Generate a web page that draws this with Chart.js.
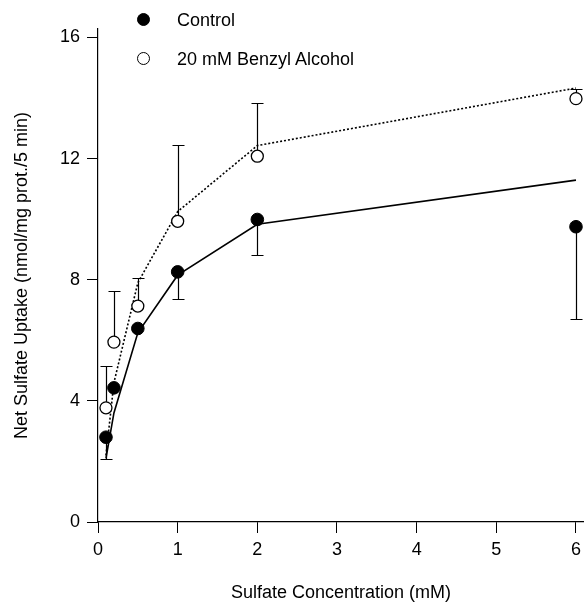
<!DOCTYPE html>
<html>
<head>
<meta charset="utf-8">
<script src="https://cdn.jsdelivr.net/npm/chart.js@4/dist/chart.umd.min.js"></script>
<style>
  html, body { margin: 0; padding: 0; background: #fff; }
  #wrap { position: relative; width: 587px; height: 606px; }
  canvas { position: absolute; left: 0; top: 0; }
  .leg { position: absolute; font-family: "Liberation Sans", Arial, sans-serif; font-size: 18px; line-height: 20px; color: #000; white-space: nowrap; }
  .dot { position: absolute; width: 13px; height: 13px; border-radius: 50%; box-sizing: border-box; }
</style>
</head>
<body>
<div id="wrap">
  <canvas id="c" width="587" height="606"></canvas>
  <div class="dot" style="left:137px; top:13px; background:#000; border:1px solid #000;"></div>
  <div class="leg" style="left:177px; top:10px;">Control</div>
  <div class="dot" style="left:137px; top:52px; background:#fff; border:1.3px solid #000;"></div>
  <div class="leg" style="left:177px; top:49px;">20 mM Benzyl Alcohol</div>
</div>
<script>
// Sulfate concentration (mM)
const conc = [0.1, 0.2, 0.5, 1, 2, 6];
// Control: mean uptake and (downward) error
const controlMean = [2.80, 4.43, 6.39, 8.26, 9.99, 9.75];
const controlErr  = [0.72, 0, 0, 0.91, 1.16, 3.05];
// 20 mM Benzyl Alcohol: mean uptake and (upward) error
const baMean = [3.77, 5.94, 7.13, 9.93, 12.08, 13.98];
const baErr  = [1.37, 1.68, 0.93, 2.51, 1.74, 0.33];
// Fitted curves read at the same concentrations
const controlFit = [2.1, 3.6, 6.25, 8.15, 9.83, 11.29];
const baFit      = [2.2, 4.6, 7.9, 10.25, 12.43, 14.33];
// Tick labels
const xTicks = [0, 1, 2, 3, 4, 5, 6];
const yTicks = [0, 4, 8, 12, 16];

const pts = (xs, ys) => xs.map((x, i) => ({x: x, y: ys[i]}));
const FONT = '"Liberation Sans", Arial, sans-serif';

const errorBars = {
  id: 'errorBars',
  beforeDatasetsDraw(chart) {
    const ctx = chart.ctx, xs = chart.scales.x, ys = chart.scales.y;
    ctx.save();
    ctx.strokeStyle = '#000';
    ctx.lineWidth = 1.2;
    const draw = (means, errs, dir) => {
      conc.forEach((c, i) => {
        if (!errs[i]) return;
        const px = Math.round(xs.getPixelForValue(c)) + 0.5;
        const p0 = ys.getPixelForValue(means[i]);
        const p1 = Math.round(ys.getPixelForValue(means[i] + dir * errs[i])) + 0.5;
        ctx.beginPath();
        ctx.moveTo(px, p0); ctx.lineTo(px, p1);
        ctx.moveTo(px - 6, p1); ctx.lineTo(px + 6, p1);
        ctx.stroke();
      });
    };
    draw(controlMean, controlErr, -1);
    draw(baMean, baErr, 1);
    ctx.restore();
  }
};

new Chart(document.getElementById('c'), {
  type: 'scatter',
  data: {
    datasets: [
      { label: 'Control fit', data: pts(conc, controlFit), showLine: true, borderColor: '#000', borderWidth: 1.6, pointRadius: 0, order: 3, tension: 0 },
      { label: 'Benzyl fit', data: pts(conc, baFit), showLine: true, borderColor: '#000', borderWidth: 1.6, borderDash: [2, 2], pointRadius: 0, order: 3, tension: 0 },
      { label: 'Control', data: pts(conc, controlMean), showLine: false, pointRadius: 6.3, pointBackgroundColor: '#000', pointBorderColor: '#000', pointBorderWidth: 1, order: 1 },
      { label: '20 mM Benzyl Alcohol', data: pts(conc, baMean), showLine: false, pointRadius: 6, pointBackgroundColor: '#fff', pointBorderColor: '#000', pointBorderWidth: 1.3, order: 1 }
    ]
  },
  options: {
    responsive: false,
    animation: false,
    clip: false,
    layout: { autoPadding: false, padding: { top: 29, right: 1, left: 0, bottom: 0 } },
    plugins: { legend: { display: false }, tooltip: { enabled: false } },
    scales: {
      x: {
        type: 'linear', min: 0, max: 6.1,
        afterBuildTicks: (s) => { s.ticks = xTicks.map(v => ({value: v})); },
        afterFit: (s) => { s.height = 84; },
        grid: { drawOnChartArea: false, drawTicks: true, tickLength: 11, color: '#000', lineWidth: 1 },
        border: { display: true, color: '#000', width: 1.2 },
        ticks: { color: '#000', font: { family: FONT, size: 18 }, padding: 6, maxRotation: 0, autoSkip: false },
        title: { display: true, text: 'Sulfate Concentration (mM)', color: '#000', font: { family: FONT, size: 18 }, padding: { top: 4, bottom: 2 } }
      },
      y: {
        type: 'linear', min: 0, max: 16.28,
        afterBuildTicks: (s) => { s.ticks = yTicks.map(v => ({value: v})); },
        afterFit: (s) => { s.width = 98; },
        grid: { drawOnChartArea: false, drawTicks: true, tickLength: 11, color: '#000', lineWidth: 1 },
        border: { display: true, color: '#000', width: 1.2 },
        ticks: { color: '#000', font: { family: FONT, size: 18 }, padding: 7 },
        title: { display: true, text: 'Net Sulfate Uptake (nmol/mg prot./5 min)', color: '#000', font: { family: FONT, size: 18 }, padding: { top: 11, bottom: 0 } }
      }
    }
  },
  plugins: [errorBars]
});
</script>
</body>
</html>
